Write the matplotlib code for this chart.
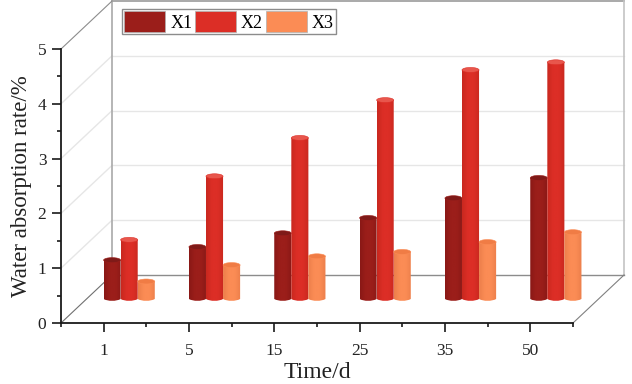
import numpy as np
import matplotlib
matplotlib.use('Agg')
import matplotlib.pyplot as plt
from matplotlib.patches import Ellipse, PathPatch, Patch
from matplotlib.path import Path
from matplotlib.colors import LinearSegmentedColormap

plt.rcParams['font.family'] = ['Liberation Serif', 'DejaVu Serif']

# values
times = ['1', '5', '15', '25', '35', '50']
x1 = [0.71, 0.95, 1.20, 1.48, 1.84, 2.21]
x2 = [1.08, 2.24, 2.94, 3.63, 4.18, 4.32]
x3 = [0.32, 0.62, 0.78, 0.86, 1.04, 1.22]
series_names = ['X1', 'X2', 'X3']
y_ticks = [0, 1, 2, 3, 4, 5]

colors = ['#9b1e1a', '#dc2e26', '#fb8c55']
edge_dark = ['#8a1816', '#c9281f', '#ec7f4b']
cap_colors = ['#7f1a18', '#e8564c', '#f07c45']

# 3d box depth in data units
depth_x = 0.598
depth_y = 0.876
bar_w = 0.2
cap_h = 0.09

fig = plt.figure(figsize=(6.32, 3.84), dpi=100)
ax = fig.add_axes([61 / 632, (384 - 323) / 384, 512 / 632, 274 / 384])
ax.set_xlim(0, 6)
ax.set_ylim(0, 5)

# walls
back = '#a9a9a9'
grid = '#e6e6e6'
ax.plot([depth_x, depth_x], [depth_y, 5 + depth_y], color=back, lw=1.2, clip_on=False, zorder=1)
ax.plot([depth_x, 6 + depth_x], [5 + depth_y, 5 + depth_y], color=back, lw=1.4, clip_on=False, zorder=1)
ax.plot([6 + depth_x, 6 + depth_x], [depth_y, 5 + depth_y], color='#c4c4c4', lw=1.2, clip_on=False, zorder=1)
ax.plot([depth_x, 6 + depth_x], [depth_y, depth_y], color='#8c8c8c', lw=1.0, clip_on=False, zorder=1)
ax.plot([0, depth_x], [0, depth_y], color='#707070', lw=0.8, clip_on=False, zorder=1)
ax.plot([6, 6 + depth_x], [0, depth_y], color='#808080', lw=0.8, clip_on=False, zorder=1)
ax.plot([0, depth_x], [5, 5 + depth_y], color='#8c8c8c', lw=0.8, clip_on=False, zorder=1)
for v in y_ticks[1:-1]:
    ax.plot([depth_x, 6 + depth_x], [v + depth_y, v + depth_y], color=grid, lw=1.0, clip_on=False, zorder=0.5)
    ax.plot([0, depth_x], [v, v + depth_y], color=grid, lw=1.0, clip_on=False, zorder=0.5)

# cylinders, standing half way into the floor
base_y = depth_y / 2
shift_x = depth_x / 2
for k, vals in enumerate([x1, x2, x3]):
    shade = LinearSegmentedColormap.from_list('s', [edge_dark[k], colors[k], colors[k], edge_dark[k]])
    for i, v in enumerate(vals):
        cx = i + 0.5 + (k - 1) * bar_w + shift_x
        left = cx - bar_w / 2
        right = cx + bar_w / 2
        top = base_y + v
        verts = [(left, top), (left, base_y), (cx - bar_w / 4, base_y - cap_h / 2),
                 (cx + bar_w / 4, base_y - cap_h / 2), (right, base_y), (right, top), (left, top)]
        codes = [Path.MOVETO, Path.LINETO, Path.CURVE4, Path.CURVE4, Path.CURVE4, Path.LINETO, Path.CLOSEPOLY]
        body = PathPatch(Path(verts, codes), facecolor='none', edgecolor='none', zorder=3 + k * 0.1, clip_on=False)
        ax.add_patch(body)
        img = ax.imshow(np.linspace(0, 1, 32).reshape(1, -1), cmap=shade, aspect='auto',
                        extent=[left, right, base_y - cap_h, top], zorder=3 + k * 0.1)
        img.set_clip_box(fig.bbox)
        img.set_clip_path(body)
        ax.add_patch(Ellipse((cx, top), bar_w, cap_h, facecolor=cap_colors[k], edgecolor=colors[k],
                             lw=0.4, zorder=3.05 + k * 0.1, clip_on=False))
ax.set_xlim(0, 6)
ax.set_ylim(0, 5)

# axes
for s in ['top', 'right']:
    ax.spines[s].set_visible(False)
for s in ['left', 'bottom']:
    ax.spines[s].set_linewidth(1.3)
    ax.spines[s].set_color('#1a1a1a')
    ax.spines[s].set_zorder(5)
ax.set_xticks(np.arange(6) + 0.5)
ax.set_xticklabels(times)
ax.set_xticks(np.arange(7), minor=True)
ax.set_yticks(y_ticks)
ax.set_yticks(np.arange(0.5, 5, 1), minor=True)
ax.tick_params(axis='both', which='major', length=6.5, width=1.2, labelsize=12.5, color='#1a1a1a', labelcolor='#222222')
ax.tick_params(axis='both', which='minor', length=3.2, width=1.2, color='#1a1a1a')
ax.tick_params(axis='x', which='major', pad=8)
ax.tick_params(axis='y', which='major', pad=4)
ax.set_xlabel('Time/d', fontsize=17, color='#222222', labelpad=2)
ax.set_ylabel('Water absorption rate/%', fontsize=16.5, color='#222222', labelpad=4)
ax.patch.set_alpha(0)

handles = [Patch(facecolor=c, edgecolor='#b0b0b0', lw=0.5) for c in colors]
leg = ax.legend(handles, series_names, loc='upper left', ncol=3, fontsize=13, frameon=True, fancybox=False,
                edgecolor='#8c8c8c', framealpha=1, handlelength=2.27, handleheight=1.4,
                handletextpad=0.28, columnspacing=0.15, borderpad=0.12, borderaxespad=0)
leg.set_bbox_to_anchor((122 / 632, 1 - 9 / 384), transform=fig.transFigure)
leg.set_zorder(6)

fig.savefig('out.png', dpi=100)
